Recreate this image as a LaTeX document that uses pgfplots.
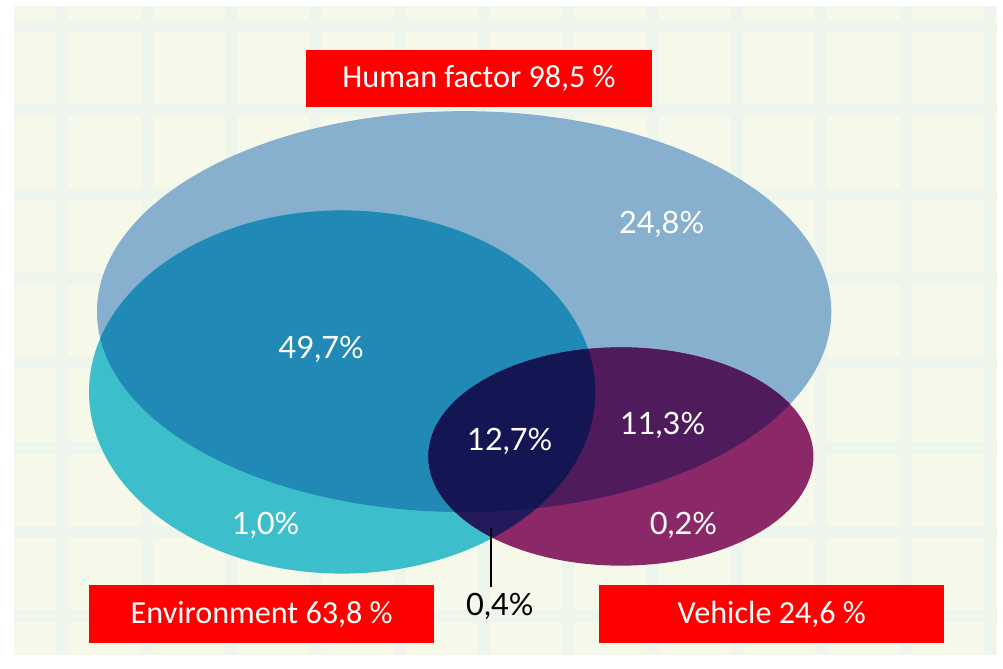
\documentclass[border=0pt]{standalone}
\usepackage{pgfplots}
\pgfplotsset{compat=1.18}
\usepackage{fontspec}
\setmainfont{Carlito}
\newfontfamily\carlito{Carlito}
\newfontfamily\lato{Lato}
\definecolor{cream}{HTML}{F6F9EA}
\definecolor{gridc}{HTML}{EEF5EC}
\definecolor{humanc}{HTML}{86B0CE}
\definecolor{envc}{HTML}{3CBFCB}
\definecolor{envhum}{HTML}{2089B6}
\definecolor{vehc}{HTML}{8A2868}
\definecolor{vehhum}{HTML}{4F1B5D}
\definecolor{envveh}{HTML}{241A5B}
\definecolor{triple}{HTML}{131653}
\definecolor{boxred}{HTML}{FF0000}
\begin{document}
\begin{tikzpicture}
\begin{axis}[
  scale only axis,
  width=495.5pt, height=327pt,
  xmin=12, xmax=1003, ymin=4, ymax=658,
  y dir=reverse,
  clip=false,
  axis line style={draw=none},
  major tick length=0pt,
  xtick={61,146,231,316,401,486,571,656,741,826,911,996},
  ytick={24,109,194,279,364,449,534,619},
  xticklabels={}, yticklabels={},
  grid=major,
  major grid style={line width=6pt, color=gridc},
  axis background/.style={fill=cream},
]
\path (axis cs:0,0) -- (axis cs:1003,658);
% Human factor
\fill[humanc] (axis cs:466,312) ellipse [x radius=370, y radius=202];
% Environment
\fill[envc] (axis cs:343,393) ellipse [x radius=255, y radius=183];
\begin{scope}
  \clip (axis cs:466,312) ellipse [x radius=370, y radius=202];
  \fill[envhum] (axis cs:343,393) ellipse [x radius=255, y radius=183];
\end{scope}
% Vehicle
\fill[vehc] (axis cs:624,458) ellipse [x radius=194, y radius=110];
\begin{scope}
  \clip (axis cs:466,312) ellipse [x radius=370, y radius=202];
  \fill[vehhum] (axis cs:624,458) ellipse [x radius=194, y radius=110];
\end{scope}
\begin{scope}
  \clip (axis cs:343,393) ellipse [x radius=255, y radius=183];
  \fill[envveh] (axis cs:624,458) ellipse [x radius=194, y radius=110];
\end{scope}
\begin{scope}
  \clip (axis cs:343,393) ellipse [x radius=255, y radius=183];
  \clip (axis cs:466,312) ellipse [x radius=370, y radius=202];
  \fill[triple] (axis cs:624,458) ellipse [x radius=194, y radius=110];
\end{scope}
% percentage labels
\begin{scope}[every node/.style={text=white, font=\lato\fontsize{15.5}{18}\selectfont, inner sep=0pt}]
\node at (axis cs:665,224) {24,8\%};
\node at (axis cs:322,350) {49,7\%};
\node at (axis cs:512,443) {12,7\%};
\node at (axis cs:666,427) {11,3\%};
\node at (axis cs:266,527) {1,0\%};
\node at (axis cs:687,527) {0,2\%};
\end{scope}
\draw[black, line width=1pt] (axis cs:493,530) -- (axis cs:493,590);
\node[text=black, font=\lato\fontsize{15.5}{18}\selectfont, inner sep=0pt] at (axis cs:502,609) {0,4\%};
% red boxes
\begin{scope}[every node/.style={fill=boxred, text=white, minimum width=174pt, minimum height=29pt, inner sep=0pt, font=\carlito\fontsize{16.2}{19}\selectfont}]
\node at (axis cs:481,77) {Human factor 98,5 \%};
\node at (axis cs:262,617) {Environment 63,8 \%};
\node at (axis cs:776,617) {Vehicle 24,6 \%};
\end{scope}
\end{axis}
\end{tikzpicture}
\end{document}
